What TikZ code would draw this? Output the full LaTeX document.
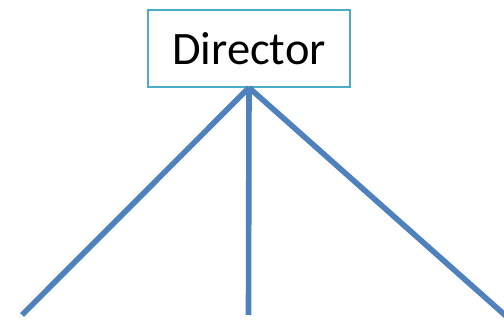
\documentclass[tikz,border=0pt]{standalone}
\usepackage{fontspec}
\setmainfont{Carlito}
\definecolor{linkblue}{HTML}{4F81BD}
\definecolor{boxcyan}{HTML}{4BACC6}
\begin{document}
\begin{tikzpicture}[x=1pt,y=-1pt,
  boxstyle/.style={draw=boxcyan,line width=1.3pt,fill=white,minimum width=202pt,minimum height=77pt,inner sep=0pt,font=\fontsize{46.5}{50}\selectfont},
  link/.style={draw=linkblue,line width=5.6pt}]
\useasboundingbox (0,0) rectangle (504,320);
\node[boxstyle] (dir) at (249,48.5) {Director};
\coordinate (l) at (22,315);
\coordinate (m) at (248.5,315);
\coordinate (r) at (506,316);
\draw[link] (dir.south) -- (l);
\draw[link] (dir.south) -- (m);
\draw[link] (dir.south) -- (r);
\end{tikzpicture}
\end{document}
